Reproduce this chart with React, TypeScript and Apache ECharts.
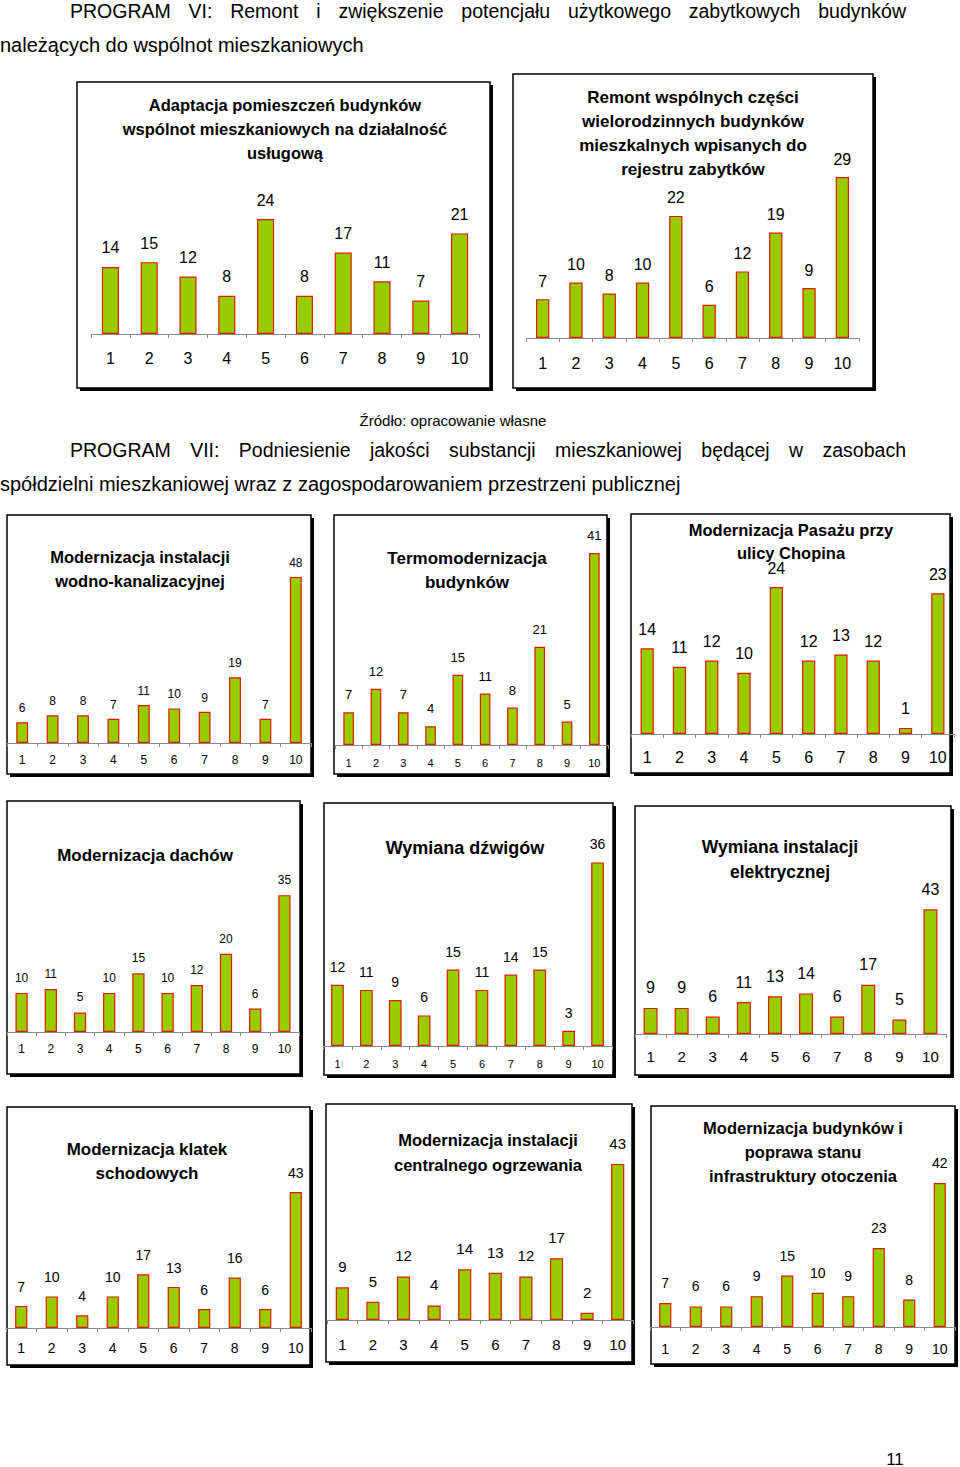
import React, { useEffect, useRef } from 'react';
import * as echarts from 'echarts';

// ---------- data ----------
const categories = ['1', '2', '3', '4', '5', '6', '7', '8', '9', '10'];

const adaptacja = [14, 15, 12, 8, 24, 8, 17, 11, 7, 21];
const remont = [7, 10, 8, 10, 22, 6, 12, 19, 9, 29];
const wodKan = [6, 8, 8, 7, 11, 10, 9, 19, 7, 48];
const termo = [7, 12, 7, 4, 15, 11, 8, 21, 5, 41];
const pasaz = [14, 11, 12, 10, 24, 12, 13, 12, 1, 23];
const dachy = [10, 11, 5, 10, 15, 10, 12, 20, 6, 35];
const dzwigi = [12, 11, 9, 6, 15, 11, 14, 15, 3, 36];
const elektr = [9, 9, 6, 11, 13, 14, 6, 17, 5, 43];
const klatki = [7, 10, 4, 10, 17, 13, 6, 16, 6, 43];
const centralne = [9, 5, 12, 4, 14, 13, 12, 17, 2, 43];
const otoczenie = [7, 6, 6, 9, 15, 10, 9, 23, 8, 42];

const tAdaptacja = ['Adaptacja pomieszczeń budynków', 'wspólnot mieszkaniowych na działalność', 'usługową'];
const tRemont = ['Remont wspólnych części', 'wielorodzinnych budynków', 'mieszkalnych wpisanych do', 'rejestru zabytków'];
const tWodKan = ['Modernizacja instalacji', 'wodno-kanalizacyjnej'];
const tTermo = ['Termomodernizacja', 'budynków'];
const tPasaz = ['Modernizacja Pasażu przy', 'ulicy Chopina'];
const tDachy = ['Modernizacja dachów'];
const tDzwigi = ['Wymiana dźwigów'];
const tElektr = ['Wymiana instalacji', 'elektrycznej'];
const tKlatki = ['Modernizacja klatek', 'schodowych'];
const tCentralne = ['Modernizacja instalacji', 'centralnego ogrzewania'];
const tOtoczenie = ['Modernizacja budynków i', 'poprawa stanu', 'infrastruktury otoczenia'];

const head1a = 'PROGRAM VI: Remont i zwiększenie potencjału użytkowego zabytkowych budynków';
const head1b = 'należących do wspólnot mieszkaniowych';
const source = 'Źródło: opracowanie własne';
const head2a = 'PROGRAM VII: Podniesienie jakości substancji mieszkaniowej będącej w zasobach';
const head2b = 'spółdzielni mieszkaniowej wraz z zagospodarowaniem przestrzeni publicznej';
const pageNo = '11';

// ---------- layout ----------
const FONT = '"Liberation Sans", Arial, sans-serif';

type Panel = {
  data: number[]; title: string[];
  box: number[]; ax: number[]; ppu: number; bw: string;
  tx: number; ty: number; tlh: number; ts: number;
  vs: number; vd: number; cs: number; cm: number;
};

const panels: Panel[] = [
  { data: adaptacja, title: tAdaptacja, box: [77, 82, 413, 306], ax: [91, 479, 334], ppu: 4.79, bw: '44%', tx: 285, ty: 105, tlh: 24, ts: 16.5, vs: 16, vd: 11, cs: 16, cm: 16 },
  { data: remont, title: tRemont, box: [513, 74, 360, 314], ax: [526, 859, 338], ppu: 5.55, bw: '40%', tx: 693, ty: 97, tlh: 24, ts: 17, vs: 16, vd: 10, cs: 16, cm: 17 },
  { data: wodKan, title: tWodKan, box: [7, 515, 304, 259], ax: [7, 311, 743], ppu: 3.46, bw: '39%', tx: 140, ty: 557, tlh: 24, ts: 16.5, vs: 12, vd: 8, cs: 12, cm: 11 },
  { data: termo, title: tTermo, box: [334, 515, 273, 259], ax: [335, 608, 745], ppu: 4.68, bw: '39%', tx: 467, ty: 558, tlh: 24, ts: 17, vs: 13, vd: 11, cs: 11, cm: 12 },
  { data: pasaz, title: tPasaz, box: [631, 514, 319, 259], ax: [631, 954, 734], ppu: 6.12, bw: '41%', tx: 791, ty: 530, tlh: 23, ts: 16.5, vs: 16, vd: 11, cs: 16, cm: 15 },
  { data: dachy, title: tDachy, box: [7, 801, 293, 273], ax: [7, 299, 1032], ppu: 3.91, bw: '42%', tx: 145, ty: 855, tlh: 24, ts: 17, vs: 12, vd: 9, cs: 12, cm: 11 },
  { data: dzwigi, title: tDzwigi, box: [324, 803, 289, 272], ax: [323, 612, 1046], ppu: 5.1, bw: '44%', tx: 465, ty: 848, tlh: 24, ts: 18, vs: 14, vd: 11, cs: 11, cm: 12 },
  { data: elektr, title: tElektr, box: [635, 806, 316, 269], ax: [635, 946, 1034], ppu: 2.9, bw: '45%', tx: 780, ty: 847, tlh: 25, ts: 17.5, vs: 16, vd: 12, cs: 15, cm: 15 },
  { data: klatki, title: tKlatki, box: [7, 1107, 303, 258], ax: [6, 311, 1328], ppu: 3.16, bw: '40%', tx: 147, ty: 1149, tlh: 24, ts: 17, vs: 14, vd: 12, cs: 14, cm: 13 },
  { data: centralne, title: tCentralne, box: [326, 1104, 306, 258], ax: [327, 633, 1320], ppu: 3.63, bw: '43%', tx: 488, ty: 1140, tlh: 25, ts: 16.5, vs: 15, vd: 13, cs: 15, cm: 17 },
  { data: otoczenie, title: tOtoczenie, box: [651, 1106, 304, 258], ax: [650, 955, 1327], ppu: 3.43, bw: '40%', tx: 803, ty: 1128, tlh: 24, ts: 16.5, vs: 14, vd: 13, cs: 14, cm: 15 },
];

function measure(text: string, size: number, weight = 'normal'): number {
  const c = document.createElement('canvas').getContext('2d');
  if (!c) return text.length * size * 0.5;
  c.font = `${weight} ${size}px "Liberation Sans", Arial, sans-serif`;
  return c.measureText(text).width;
}

function justified(line: string, x0: number, x1: number, y: number, size: number): any[] {
  const words = line.split(' ');
  const widths = words.map((w) => measure(w, size));
  const total = widths.reduce((a, b) => a + b, 0);
  const gap = (x1 - x0 - total) / (words.length - 1);
  let x = x0;
  return words.map((w, i) => {
    const el = {
      type: 'text', x, y, z: 10,
      style: { text: w, fill: '#000', fontSize: size, fontFamily: FONT, textAlign: 'left', textVerticalAlign: 'middle' },
    };
    x += widths[i] + gap;
    return el;
  });
}

function plainText(text: string, x: number, y: number, size: number, align = 'left', weight = 'normal'): any {
  return {
    type: 'text', x, y, z: 10,
    style: { text, fill: '#000', fontSize: size, fontWeight: weight, fontFamily: FONT, textAlign: align, textVerticalAlign: 'middle' },
  };
}

export default function App() {
  const ref = useRef<HTMLDivElement>(null);

  useEffect(() => {
    if (!ref.current) return;
    const chart = echarts.init(ref.current, null, { renderer: 'svg' });

    const grid: any[] = [];
    const xAxis: any[] = [];
    const yAxis: any[] = [];
    const series: any[] = [];
    const graphic: any[] = [];

    panels.forEach((p, i) => {
      const max = Math.max(...p.data);
      const [bx, by, bw, bh] = p.box;
      graphic.push({ type: 'rect', z: -20, shape: { x: bx + 3, y: by + 3, width: bw, height: bh }, style: { fill: '#000' } });
      graphic.push({ type: 'rect', z: -10, shape: { x: bx, y: by, width: bw, height: bh }, style: { fill: '#fff', stroke: '#000', lineWidth: 1.5 } });
      p.title.forEach((t, k) => {
        graphic.push(plainText(t, p.tx, p.ty + k * p.tlh, p.ts, 'center', 'bold'));
      });
      grid.push({ left: p.ax[0], width: p.ax[1] - p.ax[0], top: p.ax[2] - max * p.ppu, height: max * p.ppu, containLabel: false });
      xAxis.push({
        gridIndex: i, type: 'category', data: categories, z: 4,
        axisLine: { lineStyle: { color: '#8a8a8a', width: 1 } },
        axisTick: { show: true, length: 4, lineStyle: { color: '#8a8a8a' } },
        axisLabel: { color: '#000', fontSize: p.cs, fontFamily: FONT, margin: p.cm },
        splitLine: { show: false },
      });
      yAxis.push({ gridIndex: i, type: 'value', min: 0, max, show: false, splitLine: { show: false } });
      series.push({
        type: 'bar', xAxisIndex: i, yAxisIndex: i, data: p.data, barWidth: p.bw, z: 5,
        itemStyle: { color: '#99cc00', borderColor: '#e01a00', borderWidth: 1.2 },
        label: { show: true, position: 'top', distance: p.vd, color: '#000', fontSize: p.vs, fontFamily: FONT },
      });
    });

    graphic.push(...justified(head1a, 70, 906, 11, 19.5));
    graphic.push(plainText(head1b, 0, 45, 20));
    graphic.push(plainText(source, 453, 420, 15, 'center'));
    graphic.push(...justified(head2a, 70, 906, 450, 19.5));
    graphic.push(plainText(head2b, 0, 484, 20));
    graphic.push(plainText(pageNo, 895, 1459, 17, 'center'));

    chart.setOption({
      animation: false,
      backgroundColor: '#fff',
      grid, xAxis, yAxis, series,
      graphic: { elements: graphic },
    });
    return () => chart.dispose();
  }, []);

  return <div ref={ref} style={{ position: 'absolute', left: 0, top: 0, width: 960, height: 1467 }} />;
}
